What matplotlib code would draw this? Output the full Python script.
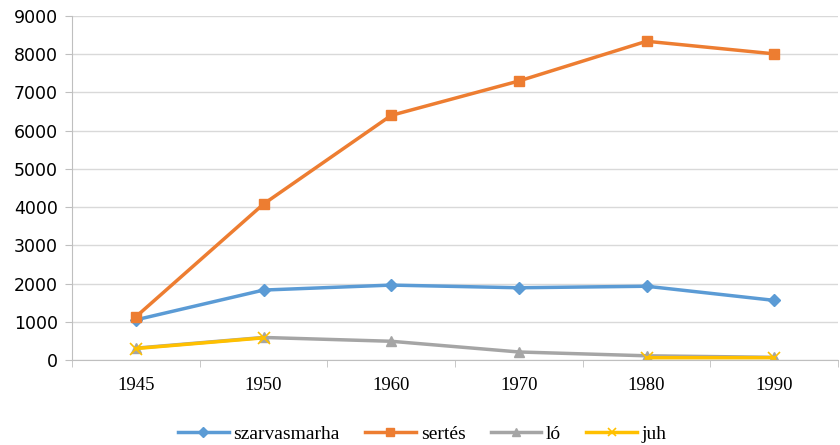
import matplotlib.pyplot as plt
import numpy as np

years = ['1945', '1950', '1960', '1970', '1980', '1990']
szarvasmarha = [1050, 1830, 1960, 1890, 1930, 1560]
sertes = [1130, 4080, 6400, 7300, 8340, 8010]
lo = [310, 590, 490, 210, 110, 70]
juh = [300, 580, np.nan, np.nan, 60, 60]

fig = plt.figure(figsize=(8.4, 4.45), dpi=100)
ax = fig.add_axes([0.0857, 0.191, 0.912, 0.773])

x = np.arange(len(years))
ax.plot(x, szarvasmarha, color='#5b9bd5', lw=2.5, marker='D', ms=6, label='szarvasmarha')
ax.plot(x, sertes, color='#ed7d31', lw=2.5, marker='s', ms=7, label='sertés')
ax.plot(x, lo, color='#a5a5a5', lw=2.5, marker='^', ms=7, label='ló')
ax.plot(x, juh, color='#ffc000', lw=2.5, marker='x', ms=8, mew=1.2, label='juh')

ax.set_xlim(-0.5, 5.5)
ax.set_ylim(0, 9000)
ax.set_yticks(range(0, 9001, 1000))
ax.yaxis.grid(True, color='#d9d9d9', lw=1)
ax.set_axisbelow(True)

ax.set_xticks(x)
ax.set_xticklabels(years, family='Liberation Serif', fontsize=13.5)
ax.set_xticks(np.arange(-0.5, 6, 1), minor=True)
ax.tick_params(axis='x', which='major', length=0, pad=12)
ax.tick_params(axis='x', which='minor', length=5, color='#bfbfbf')
ax.tick_params(axis='y', length=5, color='#bfbfbf', labelsize=12.5, pad=5)

for s in ['top', 'right']:
    ax.spines[s].set_visible(False)
for s in ['left', 'bottom']:
    ax.spines[s].set_color('#bfbfbf')

fig.legend(loc='lower center', ncol=4, frameon=False, bbox_to_anchor=(0.503, -0.035),
           prop={'family': 'Liberation Serif', 'size': 14}, handlelength=2.6, columnspacing=1.3,
           handletextpad=0.25, markerscale=0.8)

fig.savefig('out.png', dpi=100)
